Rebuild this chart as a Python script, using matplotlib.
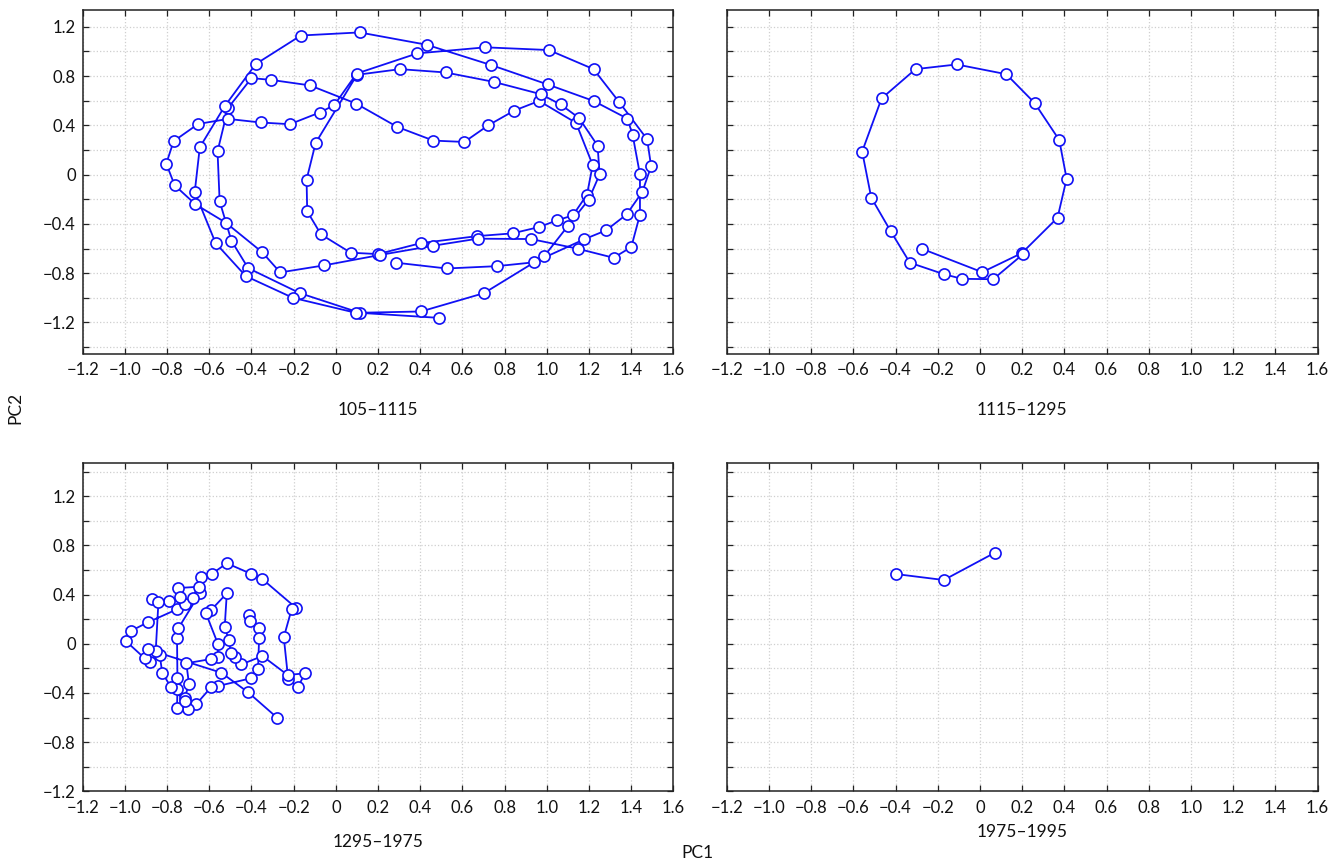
import matplotlib
matplotlib.use("Agg")
import matplotlib.pyplot as plt
from matplotlib.ticker import MultipleLocator, FuncFormatter

plt.rcParams['font.family'] = ['Lato', 'DejaVu Sans']

# 105-1115 trajectory (PC1, PC2), in order
pc1_a = [0.49, 0.114, -0.171, -0.416, -0.495, -0.551, -0.561, -0.511, -0.40, -0.308,
         -0.123, 0.095, 0.291, 0.462, 0.609, 0.723, 0.846, 0.963, 1.138, 1.217,
         1.19, 1.123, 1.047, 0.962, 0.837, 0.671, 0.403, 0.20, 0.07, -0.071,
         -0.136, -0.139, -0.096, 0.10, 0.304, 0.52, 0.747, 0.971, 1.065, 1.152,
         1.24, 1.25, 1.198, 1.098, 0.987, 0.702, 0.403, 0.095, -0.204, -0.427,
         -0.57, -0.669, -0.645, -0.527, -0.38, -0.166, 0.112, 0.43, 0.736, 1.003,
         1.221, 1.381, 1.406, 1.441, 1.441, 1.40, 1.316, 1.147, 0.925, 0.672,
         0.462, 0.21, -0.057, -0.264, -0.35, -0.522, -0.666, -0.764, -0.804, -0.769,
         -0.653, -0.511, -0.357, -0.218, -0.077, -0.008, 0.098, 0.386, 0.709, 1.009,
         1.221, 1.342, 1.475, 1.494, 1.452, 1.378, 1.28, 1.178, 0.938, 0.764,
         0.525, 0.285]
pc2_a = [-1.163, -1.122, -0.962, -0.759, -0.537, -0.217, 0.189, 0.541, 0.783, 0.769,
         0.724, 0.577, 0.387, 0.276, 0.265, 0.401, 0.52, 0.598, 0.42, 0.078,
         -0.163, -0.331, -0.372, -0.426, -0.477, -0.499, -0.556, -0.645, -0.634, -0.485,
         -0.298, -0.04, 0.257, 0.81, 0.856, 0.829, 0.753, 0.653, 0.569, 0.46,
         0.236, 0.002, -0.203, -0.42, -0.663, -0.962, -1.111, -1.122, -1.0, -0.824,
         -0.556, -0.141, 0.222, 0.555, 0.897, 1.129, 1.154, 1.054, 0.889, 0.732,
         0.598, 0.455, 0.325, 0.002, -0.325, -0.588, -0.675, -0.602, -0.523, -0.52,
         -0.577, -0.652, -0.737, -0.794, -0.629, -0.39, -0.241, -0.087, 0.089, 0.271,
         0.411, 0.452, 0.423, 0.409, 0.504, 0.563, 0.82, 0.984, 1.033, 1.011,
         0.856, 0.59, 0.287, 0.067, -0.141, -0.323, -0.453, -0.524, -0.712, -0.743,
         -0.762, -0.715]

# 1115-1295
pc1_b = [-0.275, 0.011, 0.199, 0.368, 0.411, 0.376, 0.259, 0.125, -0.11, -0.305,
         -0.466, -0.558, -0.515, -0.423, -0.332, -0.171, -0.085, 0.063, 0.205]
pc2_b = [-0.602, -0.792, -0.637, -0.35, -0.033, 0.281, 0.582, 0.815, 0.894, 0.856,
         0.618, 0.187, -0.187, -0.459, -0.715, -0.808, -0.846, -0.849, -0.645]

# 1295-1975
pc1_c = [-0.413, -0.408, -0.364, -0.364, -0.369, -0.403, -0.559, -0.59, -0.661, -0.701,
         -0.753, -0.751, -0.751, -0.753, -0.747, -0.645, -0.637, -0.589, -0.517, -0.40,
         -0.351, -0.19, -0.21, -0.247, -0.226, -0.179, -0.147, -0.229, -0.348, -0.448,
         -0.478, -0.498, -0.508, -0.527, -0.517, -0.593, -0.617, -0.559, -0.559, -0.59,
         -0.709, -0.696, -0.717, -0.717, -0.783, -0.823, -0.835, -0.883, -0.906, -0.997,
         -0.973, -0.891, -0.753, -0.717, -0.679, -0.65, -0.75, -0.74, -0.791, -0.87,
         -0.841, -0.854, -0.891, -0.543, -0.416, -0.279]
pc2_c = [0.233, 0.185, 0.13, 0.044, -0.208, -0.281, -0.344, -0.35, -0.49, -0.528,
         -0.52, -0.371, -0.281, 0.044, 0.125, 0.41, 0.545, 0.567, 0.654, 0.567,
         0.529, 0.293, 0.28, 0.052, -0.29, -0.35, -0.241, -0.254, -0.1, -0.168,
         -0.111, -0.073, 0.03, 0.138, 0.41, 0.271, 0.252, -0.002, -0.106, -0.124,
         -0.159, -0.33, -0.439, -0.463, -0.35, -0.236, -0.092, -0.146, -0.119, 0.024,
         0.103, 0.174, 0.28, 0.323, 0.369, 0.463, 0.453, 0.382, 0.347, 0.361,
         0.341, -0.059, -0.046, -0.236, -0.395, -0.601]

# 1975-1995
pc1_d = [-0.40, -0.171, 0.071]
pc2_d = [0.567, 0.518, 0.74]

panels = [
    (pc1_a, pc2_a, "105\u20131115"),
    (pc1_b, pc2_b, "1115\u20131295"),
    (pc1_c, pc2_c, "1295\u20131975"),
    (pc1_d, pc2_d, "1975\u20131995"),
]

W, H = 1342, 863
fig = plt.figure(figsize=(W / 100, H / 100), dpi=100)

# axes boxes in pixels: left, top, right, bottom
boxes = [(82.7, 10, 673.5, 353.5), (726.7, 10, 1317.5, 353.5),
         (82.7, 462.7, 673.5, 791.3), (726.7, 462.7, 1317.5, 791.3)]
ylims = [(-1.452, 1.336), (-1.452, 1.336), (-1.2, 1.472), (-1.2, 1.472)]
title_y = [410, 410, 842, 832]


def xfmt(v, pos):
    if abs(v) < 1e-9:
        return "0"
    return ("%.1f" % v).replace("-", "\u2212")


def yfmt(v, pos):
    k = round(v / 0.2)
    if k % 2 != 0:
        return ""
    if k == 0:
        return "0"
    return ("%.1f" % v).replace("-", "\u2212")


for i, (xs, ys, title) in enumerate(panels):
    l, t, r, b = boxes[i]
    ax = fig.add_axes([l / W, 1 - b / H, (r - l) / W, (b - t) / H])
    ax.plot(xs, ys, color='#1010f5', lw=1.3, marker='o', ms=8,
            mfc='white', mec='#1010f5', mew=1.2, zorder=3)
    ax.set_xlim(-1.2, 1.6)
    ax.set_ylim(*ylims[i])
    ax.xaxis.set_major_locator(MultipleLocator(0.2))
    ax.yaxis.set_major_locator(MultipleLocator(0.2))
    ax.xaxis.set_major_formatter(FuncFormatter(xfmt))
    ax.yaxis.set_major_formatter(FuncFormatter(yfmt))
    ax.grid(True, color='#cfcfcf', ls=':', lw=0.9)
    ax.set_axisbelow(True)
    ax.tick_params(direction='in', length=4.5, width=0.9, top=True, right=True,
                   labelsize=12, color='#222222', labelcolor='#111111')
    ax.tick_params(axis='x', pad=6)
    ax.tick_params(axis='y', pad=5)
    if i % 2 == 1:
        ax.tick_params(axis='y', labelleft=False)
    for s in ax.spines.values():
        s.set_linewidth(1.1)
        s.set_color('#222222')
    fig.text((l + r) / 2 / W, 1 - title_y[i] / H, title, ha='center', va='center',
             fontsize=12.5, color='#111111')

fig.text(15 / W, 1 - 408 / H, "PC2", rotation=90, ha='center', va='center',
         fontsize=12.5, color='#111111')
fig.text(697 / W, 1 - 853 / H, "PC1", ha='center', va='center',
         fontsize=12.5, color='#111111')

fig.savefig("out.png", dpi=100)
